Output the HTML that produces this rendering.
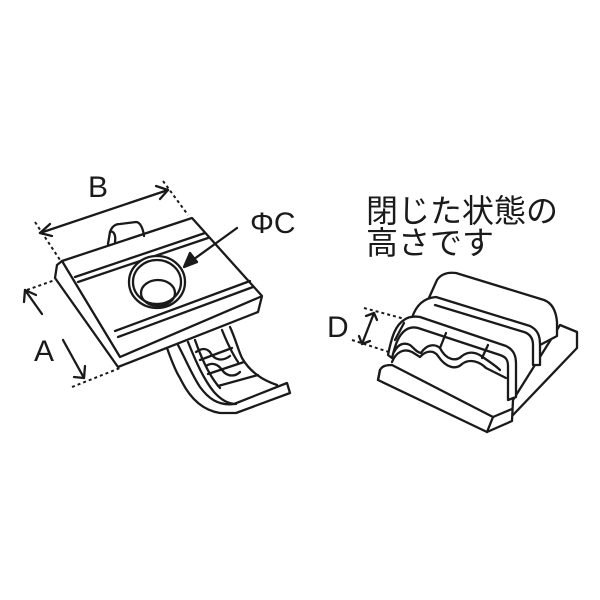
<!DOCTYPE html>
<html><head><meta charset="utf-8"><style>
html,body{margin:0;padding:0;background:#fff;width:600px;height:600px;overflow:hidden}
</style></head><body>
<svg width="600" height="600" viewBox="0 0 600 600" xmlns="http://www.w3.org/2000/svg">
<g fill="none" stroke="#1a1a1a" stroke-width="2.3" stroke-linejoin="round" stroke-linecap="round">
<!-- strap -->
<path d="M167,348 C172,362 176,372 180,378 C188,395 200,410 220,413 L236,413 L290,393 L287,383 L234,404 C218,406 208,398 200,387 C192,375 186,360 178,345"/>
<path d="M188,342 C196,362 204,380 214,392 C222,401 230,404 236,404"/>
<path d="M195,340 C202,360 210,377 220,388"/>
<path d="M230,327 C236,340 238,350 242,358 C250,372 262,380 277,385"/>
<path d="M222,330 C228,345 234,356 238,362"/>
<path d="M200,360 L232,348 M208,374 L244,362 M218,386 L258,375"/>
<path d="M196,352 C202,348 206,348 210,352 C214,360 222,362 230,356 M206,366 C212,362 218,364 222,370 C228,378 236,376 240,372"/>
<!-- plate -->
<path d="M57,265 L62,261 L192,218 L262,296 L258,312 L118,367 L55,278 Z" fill="#fff"/>
<path d="M62,261 L120,357 L260,297"/>
<path d="M75,277 L205,233 M78,282 L208,238"/>
<path d="M115,331 L250,281 M118,337 L253,287"/>
<path d="M108,244 L110,232 C112,226 116,224 120,224 L136,222 C140,222 143,228 144,236"/>
<path d="M110,232 C114,230 116,236 115,242"/>
<ellipse cx="157" cy="282" rx="28" ry="26" fill="#fff"/>
<ellipse cx="157" cy="282" rx="24" ry="22"/>
<ellipse cx="158" cy="293" rx="17" ry="13"/>
<!-- ΦC arrow -->
<path d="M237,228 L190,262"/>
<path d="M184,267 L190,253 L197,262 Z" fill="#1a1a1a"/>
<!-- B dim -->
<path d="M40,233 L168,190"/>
<path d="M50,224 L40,233 L52,236 M156,186 L168,190 L160,199"/>
<!-- A dim -->
<path d="M25,290 L42,314 M63,340 L84,378"/>
<path d="M24,302 L25,290 L36,295 M74,377 L84,378 L85,366"/>
</g>
<g fill="none" stroke="#1a1a1a" stroke-width="2" stroke-dasharray="3,3">
<path d="M35,222 L60,260 M163,181 L188,215 M27,290 L55,280 M72,387 L120,368"/>
<path d="M364,308 L416,322 M352,340 L392,353"/>
</g>
<g fill="none" stroke="#1a1a1a" stroke-width="2.3" stroke-linejoin="round" stroke-linecap="round">
<!-- right object base -->
<path d="M380,370 L378,380 L487,432 L512,421 L513,400 L560,325 L577,332 L577,348 L513,415" fill="#fff"/>
<path d="M380,370 C382,366 386,365 392,365 L493,417 L512,409"/>
<path d="M487,432 L493,417"/>
<path d="M380,370 L378,380"/>
<!-- back arch -->
<path d="M428,300 L437,280 C441,274 448,272 456,273 L544,300 C552,303 556,310 557,322 L557,336 L540,345" fill="#fff"/>
<!-- middle arch -->
<path d="M412,318 C416,305 424,298 436,297 L530,326 C538,330 540,336 540,345 L540,365 L533,365 L533,345 C533,338 530,334 524,332 L435,305" fill="#fff"/>
<!-- front arch -->
<path d="M388,355 C392,335 396,325 404,320 C408,317 414,316 420,317 L506,346 C514,350 516,356 516,364 L516,397 L508,400 L508,366 C508,360 506,357 500,355 L418,328 C410,326 404,330 400,336 C396,342 394,350 392,358 Z" fill="#fff"/>
<path d="M395,340 L404,323"/>
<!-- scallops -->
<path d="M394,352 C398,344 404,342 410,345 C414,348 416,352 421,353 C426,345 434,343 440,348 C446,360 456,362 462,356 C470,350 478,353 484,358 C490,362 496,366 500,370"/>
<path d="M392,362 C396,352 404,348 412,352 L420,357 C426,350 434,350 438,356 C446,368 456,370 462,364 C470,358 480,362 486,368 L506,378"/>
<path d="M440,348 L446,333 M482,358 L488,345"/>
<!-- D arrow -->
<path d="M374,313 L362,344"/>
<path d="M366,316 L374,313 L377,320 M359,336 L362,344 L370,341"/>
</g>
<g font-family="'Liberation Sans','Noto Sans CJK JP',sans-serif" fill="#1a1a1a">
<text x="88" y="197" font-size="30">B</text>
<text x="250" y="233" font-size="30">ΦC</text>
<text x="34" y="361" font-size="30">A</text>
<text x="327" y="337" font-size="30">D</text>
<text x="366" y="222" font-size="32">閉じた状態の</text>
<text x="366" y="254" font-size="32">高さです</text>
</g>
</svg>
</body></html>
